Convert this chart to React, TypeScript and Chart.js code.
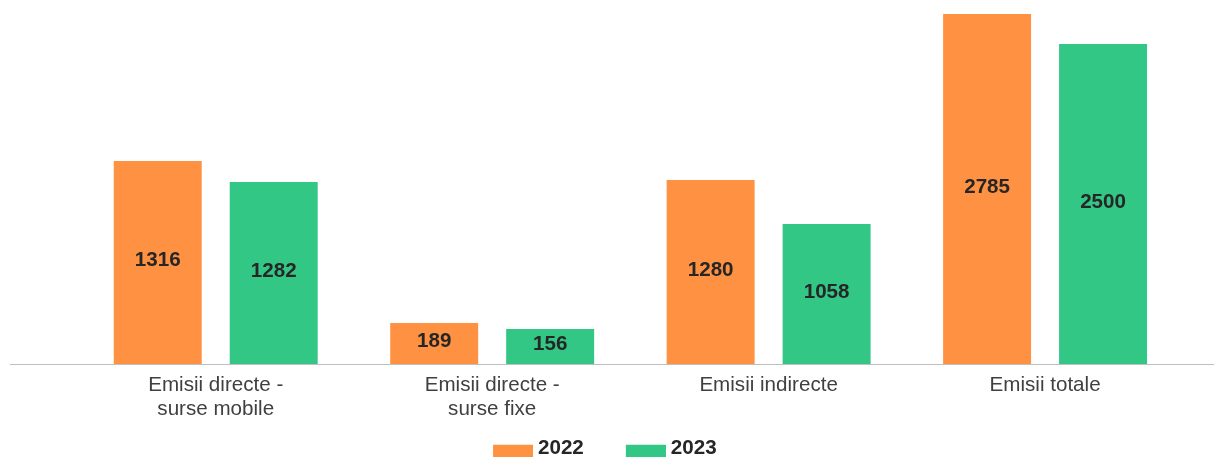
import React, { useEffect, useRef } from "react";
import { Chart, registerables } from "chart.js";

Chart.register(...registerables);

// ---- data ----
const categories: (string | string[])[] = [
  ["Emisii directe -", "surse mobile"],
  ["Emisii directe -", "surse fixe"],
  "Emisii indirecte",
  "Emisii totale",
];
const seriesNames = ["2022", "2023"];
// bar heights as drawn in the reference (value units)
const bars2022 = [1618, 329, 1467, 2789];
const bars2023 = [1451, 281, 1117, 2550];
// numbers printed on the bars
const labels2022 = ["1316", "189", "1280", "2785"];
const labels2023 = ["1282", "156", "1058", "2500"];
const yMax = 2900;

const colors = ["#FF9142", "#33C786"];
const FONT = "'Liberation Sans', Arial, sans-serif";
const FS = 20.6;

function makeSwatch(color: string): HTMLCanvasElement {
  const c = document.createElement("canvas");
  c.width = 80;
  c.height = 30;
  const ctx = c.getContext("2d")!;
  ctx.fillStyle = color;
  ctx.fillRect(40, 11, 40, 19);
  return c;
}

const valueLabelPlugin = {
  id: "valueLabels",
  afterDatasetsDraw(chart: any) {
    const ctx = chart.ctx;
    const all = [labels2022, labels2023];
    ctx.save();
    ctx.font = `bold ${FS}px ${FONT}`;
    ctx.fillStyle = "#262626";
    ctx.textAlign = "center";
    ctx.textBaseline = "middle";
    chart.data.datasets.forEach((_: any, di: number) => {
      const meta = chart.getDatasetMeta(di);
      meta.data.forEach((el: any, i: number) => {
        const y = (el.y + el.base) / 2 - 2;
        ctx.fillText(all[di][i], el.x, y);
      });
    });
    ctx.restore();
  },
};

const axisLinePlugin = {
  id: "axisLine",
  afterDatasetsDraw(chart: any) {
    const ctx = chart.ctx;
    const y = Math.round(chart.chartArea.bottom) + 0.5;
    ctx.save();
    ctx.strokeStyle = "#BFBFBF";
    ctx.lineWidth = 1;
    ctx.beginPath();
    ctx.moveTo(20, y);
    ctx.lineTo(chart.width, y);
    ctx.stroke();
    ctx.restore();
  },
};

export default function App() {
  const ref = useRef<HTMLCanvasElement | null>(null);

  useEffect(() => {
    if (!ref.current) return;
    const swatches = colors.map(makeSwatch);
    const chart = new Chart(ref.current, {
      type: "bar",
      data: {
        labels: categories as any,
        datasets: [
          {
            label: seriesNames[0],
            data: bars2022,
            backgroundColor: colors[0],
            categoryPercentage: 0.839,
            barPercentage: 0.7586,
          },
          {
            label: seriesNames[1],
            data: bars2023,
            backgroundColor: colors[1],
            categoryPercentage: 0.839,
            barPercentage: 0.7586,
          },
        ],
      },
      options: {
        responsive: true,
        maintainAspectRatio: false,
        animation: false,
        layout: { padding: { left: 1.7, right: 30.7, top: 0, bottom: 0 } },
        scales: {
          x: {
            grid: { display: false, drawTicks: false },
            border: { display: false },
            ticks: {
              padding: 9.3,
              color: "#404040",
              font: { family: FONT, size: FS, lineHeight: 24 / FS },
              maxRotation: 0,
              autoSkip: false,
            },
          },
          y: {
            min: 0,
            max: yMax,
            grid: { display: false, drawTicks: false },
            border: { display: false },
            ticks: { display: false },
            afterFit: (s: any) => {
              s.width = 85.8;
            },
          },
        },
        plugins: {
          tooltip: { enabled: false },
          legend: {
            position: "bottom",
            labels: {
              usePointStyle: true,
              pointStyleWidth: 69.3,
              padding: 7.4,
              color: "#262626",
              font: { family: FONT, size: FS, weight: "bold" },
              generateLabels: (ch: any) => {
                const items = (Chart.defaults as any).plugins.legend.labels.generateLabels(ch);
                return items.map((it: any, i: number) => ({ ...it, pointStyle: swatches[i] }));
              },
            },
          },
        },
      },
      plugins: [valueLabelPlugin, axisLinePlugin],
    } as any);
    return () => chart.destroy();
  }, []);

  return (
    <div
      style={{
        position: "fixed",
        left: 0,
        top: 0,
        width: 1214,
        height: 457,
        overflow: "hidden",
        background: "#fff",
      }}
    >
      <div style={{ position: "relative", marginLeft: -10, width: 1224, height: 469 }}>
        <canvas ref={ref} />
      </div>
    </div>
  );
}
